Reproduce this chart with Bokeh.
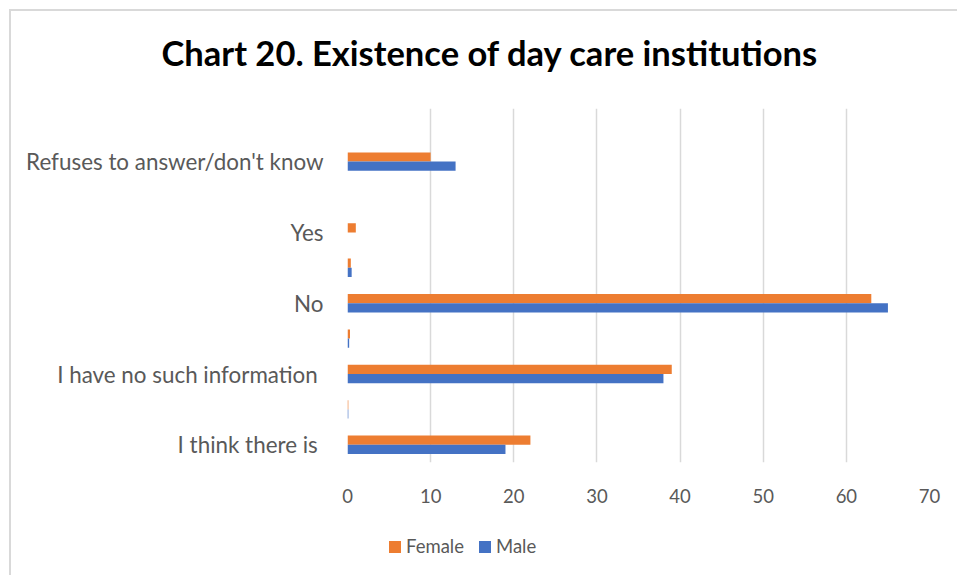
from bokeh.plotting import figure
from bokeh.layouts import column
from bokeh.models import FixedTicker, Title, Legend, LegendItem, ColumnDataSource
from bokeh.transform import dodge
from bokeh.embed import file_html
from bokeh.resources import INLINE

# Survey answers, bottom to top (blank rows are unlabeled spacer answers)
categories = [
    "I think there is ",
    "",
    "I have no such information ",
    "",
    "No",
    "",
    "Yes",
    "",
    "Refuses to answer/don't know",
    "",
]
female = [22, 0.1, 39, 0.3, 63, 0.4, 1, 0, 10, 0]
male = [19, 0.1, 38, 0.2, 65, 0.5, 0, 0, 13, 0]
x_ticks = [0, 10, 20, 30, 40, 50, 60, 70]
series_names = ["Female", "Male"]
chart_title = "Chart 20. Existence of day care institutions"

FONT = "Lato"
GREY = "#595959"
ORANGE = "#ED7D31"
BLUE = "#4472C4"
BORDER = "2px solid #d9d9d9"


def blank_strip(height, margin, styles):
    """An empty strip (no axes, no grid) used to hold the title or legend."""
    f = figure(
        width=948, height=height,
        x_range=(0, 1), y_range=(0, 1),
        x_axis_type=None, y_axis_type=None,
        output_backend="svg", toolbar_location=None,
        min_border=0, margin=margin, title=None,
    )
    f.styles = styles
    f.outline_line_color = None
    f.grid.visible = False
    return f


# title strip
tf = blank_strip(97, (9, 0, 0, 9), {"border-left": BORDER, "border-top": BORDER})
tf.add_layout(Title(
    text=chart_title,
    align="left", offset=-186, standoff=41, vertical_align="top",
    text_font=FONT, text_font_style="bold", text_font_size="34.5px",
    text_color="black",
), "above")

pos = list(range(len(categories)))
src = ColumnDataSource(dict(pos=pos, female=female, male=male))

# main chart
p = figure(
    width=948, height=403,
    x_range=(0, 70), y_range=(-0.5, len(categories) - 0.5),
    output_backend="svg", toolbar_location=None, title=None,
    min_border_left=336, min_border_right=30,
    min_border_top=2, min_border_bottom=47,
    margin=(0, 0, 0, 9),
)
p.styles = {"border-left": BORDER}
p.outline_line_color = None
p.background_fill_color = "white"
p.border_fill_color = "white"

bar_h = 0.26
p.hbar(y=dodge("pos", 0.13), right="female", left=0, height=bar_h,
       source=src, fill_color=ORANGE, line_color=None)
p.hbar(y=dodge("pos", -0.13), right="male", left=0, height=bar_h,
       source=src, fill_color=BLUE, line_color=None)

# x axis
p.xaxis.ticker = FixedTicker(ticks=x_ticks)
p.xaxis.axis_line_color = None
p.xaxis.major_tick_line_color = None
p.xaxis.minor_tick_line_color = None
p.xaxis.major_label_text_font = FONT
p.xaxis.major_label_text_font_size = "18.5px"
p.xaxis.major_label_text_color = GREY
p.xaxis.major_label_standoff = 20

# y axis with category names
p.yaxis.ticker = FixedTicker(ticks=pos)
p.yaxis.major_label_overrides = {i: c for i, c in enumerate(categories)}
p.yaxis.axis_line_color = None
p.yaxis.major_tick_line_color = None
p.yaxis.minor_tick_line_color = None
p.yaxis.major_label_text_font = FONT
p.yaxis.major_label_text_font_size = "22.4px"
p.yaxis.major_label_text_color = GREY
p.yaxis.major_label_standoff = 18

p.xgrid.ticker = FixedTicker(ticks=x_ticks)
p.xgrid.grid_line_color = "#d9d9d9"
p.xgrid.grid_line_width = 1.5
p.ygrid.grid_line_color = None

# legend strip underneath the chart
lf = blank_strip(66, (0, 0, 0, 9), {"border-left": BORDER})
lf_f = lf.hbar(y=[-5], right=[0], left=0, height=1, fill_color=ORANGE, line_color=None)
lf_m = lf.hbar(y=[-5], right=[0], left=0, height=1, fill_color=BLUE, line_color=None)

legend = Legend(
    items=[LegendItem(label=series_names[0], renderers=[lf_f]),
           LegendItem(label=series_names[1], renderers=[lf_m])],
    orientation="horizontal",
    location=(40, 18),
    glyph_width=15, glyph_height=15,
    label_text_font=FONT, label_text_font_size="18.5px", label_text_color=GREY,
    label_standoff=4, spacing=13, padding=0, margin=0,
    border_line_color=None, background_fill_alpha=0,
)
lf.add_layout(legend, "center")

layout = column(tf, p, lf, spacing=0)
open("out.html", "w").write(file_html(layout, INLINE))
